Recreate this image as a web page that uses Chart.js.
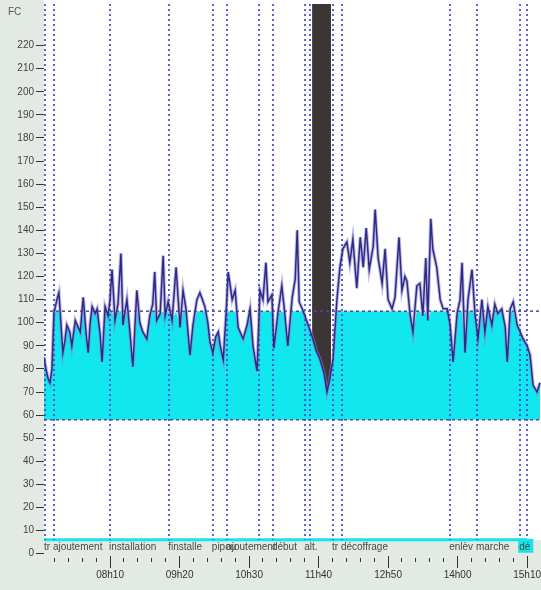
<!DOCTYPE html>
<html>
<head>
<meta charset="utf-8">
<script src="https://cdn.jsdelivr.net/npm/chart.js@4.4.1/dist/chart.umd.min.js"></script>
<style>
  html, body { margin: 0; padding: 0; background: #e3e9e3; }
  #wrap { width: 541px; height: 590px; }
</style>
</head>
<body>
<div id="wrap"><canvas id="fc-chart" width="541" height="590"></canvas></div>
<script>
// heart rate (FC) over the day, time in minutes since midnight
const times = [
  423.5, 425.5, 427.5, 429.5, 431.5, 433.5, 436.5, 438.5, 440.5, 442.5,
  444.5, 446.5, 449.5, 451.5, 455, 458, 460, 463, 466, 468,
  470, 472, 475, 477, 480, 482, 485, 488, 490, 492,
  495, 498, 501, 503, 507, 510, 513, 517, 520, 523,
  527, 530, 533, 535, 537, 540.5, 543.5, 545.5, 548.5, 552.5,
  556.5, 560.5, 563.5, 566.5, 570.5, 573.5, 577.5, 580.5, 585.5, 588.5,
  590.5, 593.5, 596.5, 599, 601, 604, 607, 609, 613, 616,
  619, 622, 624, 628, 631, 634, 638, 641, 644, 647,
  649, 653, 655, 659, 663, 666, 669, 673.5, 676.5, 678.5,
  680.5, 684.5, 689.5, 693.5, 697.5, 701.5, 705.5, 708.5, 711.5, 712.5,
  714.5, 718.5, 721.5, 724.5, 728.5, 731.5, 734.5, 738.5, 742, 745,
  748, 751, 755, 757, 760, 764, 767, 770, 774, 777,
  781, 784, 787, 789, 792, 795, 799, 802, 805, 808,
  810, 813, 815, 819, 822.5, 825.5, 829.5, 832.5, 835.5, 839.5,
  842.5, 844.5, 847.5, 850.5, 854.5, 857.5, 860.5, 864.5, 867.5, 870.5,
  874.5, 877.5, 880.5, 884.5, 888, 890, 893, 896, 900, 903,
  906, 910, 913, 916, 920, 923
];
const fc = [
  85, 80, 76, 74, 80, 104, 110, 113, 100, 87,
  92, 99, 96, 90, 101, 98, 96, 111, 95, 87,
  100, 107, 104, 106, 95, 83, 107, 103, 110, 123,
  101, 108, 130, 99, 110, 96, 81, 114, 100, 96,
  93, 103, 108, 122, 101, 104, 129, 103, 109, 101,
  124, 98, 114, 106, 86, 99, 110, 113, 107, 100,
  92, 87, 94, 96, 90, 84, 105, 122, 110, 114,
  98, 95, 93, 99, 106, 90, 79, 114, 110, 126,
  109, 112, 89, 104, 116, 104, 90, 111, 119, 140,
  109, 105, 99, 94, 88, 84, 78, 70, 76, 79,
  84, 110, 124, 132, 135, 126, 136, 115, 137, 124,
  141, 123, 133, 149, 128, 117, 132, 110, 106, 111,
  137, 114, 120, 118, 104, 96, 116, 117, 103, 128,
  101, 145, 132, 124, 110, 106, 106, 99, 83, 104,
  110, 126, 87, 110, 123, 104, 93, 110, 96, 107,
  99, 108, 104, 106, 98, 83, 106, 109, 99, 96,
  93, 90, 86, 73, 70, 74
];

// events (vertical dotted lines) and their labels
const eventTimes = [423.5, 432.5, 489, 548.5, 592.5, 607, 639, 653, 685.5, 690.5,
                    713.5, 722.5, 831.5, 858.5, 902, 909];
const eventLabels = ['tr', 'ajoutement', 'installation', 'finstalle', 'pipou', 'ajoutement', '', 'début', 'alt.', '',
                     'tr', 'décoffrage', 'enlèv', 'marche', 'dé', ''];

const zoneLow = 58;
const zoneHigh = 105;
const gapStart = 693.5;
const gapEnd = 712.5;
const baseline = 6;

const majorTicks = [490, 560, 630, 700, 770, 840, 910];
const xTickLabels = ['08h10', '09h20', '10h30', '11h40', '12h50', '14h00', '15h10'];
const yTicks = [0, 10, 20, 30, 40, 50, 60, 70, 80, 90, 100, 110, 120, 130, 140, 150, 160, 170, 180, 190, 200, 210, 220];

const xMin = 423.5, xMax = 924, yMin = -1, yMax = 238;
const fontFamily = '"Liberation Sans", Arial, sans-serif';

const hrPoints = times.map((t, i) => ({ x: t, y: fc[i] }));

const backdrop = {
  id: 'backdrop',
  beforeDraw(chart) {
    const { ctx, chartArea, scales } = chart;
    ctx.save();
    ctx.fillStyle = '#e3e9e3';
    ctx.fillRect(0, 0, chart.width, chart.height);
    ctx.fillStyle = '#ffffff';
    const yb = scales.y.getPixelForValue(baseline);
    ctx.fillRect(chartArea.left, 0, chartArea.right - chartArea.left, yb);
    ctx.fillStyle = '#555';
    ctx.font = '10px ' + fontFamily;
    ctx.textBaseline = 'middle';
    ctx.fillText('FC', 8, 12);
    ctx.restore();
  }
};

const eventMarkers = {
  id: 'eventMarkers',
  beforeDatasetDraw(chart, args) {
    if (args.index !== 0) return;
    const { ctx, chartArea, scales: { x, y } } = chart;
    const yb = y.getPixelForValue(baseline);
    ctx.save();
    ctx.strokeStyle = 'rgba(70, 70, 200, 0.85)';
    ctx.lineWidth = 2;
    ctx.setLineDash([2, 3]);
    eventTimes.forEach(t => {
      const px = Math.round(x.getPixelForValue(t)) + 1;
      ctx.beginPath();
      ctx.moveTo(px, chartArea.top);
      ctx.lineTo(px, yb);
      ctx.stroke();
    });
    ctx.restore();
  },
  afterDraw(chart) {
    const { ctx, scales: { x, y } } = chart;
    const ty = y.getPixelForValue(3);
    ctx.save();
    ctx.font = '10px ' + fontFamily;
    ctx.textBaseline = 'middle';
    ctx.textAlign = 'left';
    eventTimes.forEach((t, i) => {
      const label = eventLabels[i];
      if (!label) return;
      const px = x.getPixelForValue(t);
      if (label === 'dé') {
        ctx.fillStyle = '#14e4ec';
        ctx.fillRect(px - 1, ty - 8, ctx.measureText(label).width + 4, 14);
      }
      ctx.fillStyle = '#4a4a42';
      ctx.fillText(label, px, ty);
    });
    ctx.restore();
  }
};

new Chart(document.getElementById('fc-chart'), {
  type: 'line',
  data: {
    datasets: [
      {
        label: 'FC',
        data: hrPoints,
        borderColor: '#2c2c82',
        borderWidth: 1.5,
        pointRadius: 0,
        fill: false,
        order: 1
      },
      {
        label: 'halo',
        data: hrPoints,
        borderColor: 'rgba(140, 125, 210, 0.55)',
        borderWidth: 3.5,
        pointRadius: 0,
        fill: false,
        order: 2
      },
      {
        label: 'zone',
        data: times.map((t, i) => ({ x: t, y: Math.min(fc[i], zoneHigh) })),
        borderColor: 'transparent',
        borderWidth: 0,
        pointRadius: 0,
        backgroundColor: '#12e6ee',
        fill: { value: zoneLow },
        order: 6
      },
      {
        label: 'coupure',
        data: hrPoints.filter(p => p.x >= gapStart && p.x <= gapEnd),
        borderColor: 'transparent',
        borderWidth: 0,
        pointRadius: 0,
        backgroundColor: '#3c3535',
        fill: 'end',
        order: 5
      },
      {
        label: 'seuil haut',
        data: [{ x: xMin, y: zoneHigh }, { x: xMax, y: zoneHigh }],
        borderColor: '#4e4e8a',
        borderWidth: 1.5,
        borderDash: [3, 3],
        pointRadius: 0,
        fill: false,
        order: 3
      },
      {
        label: 'seuil bas',
        data: [{ x: xMin, y: zoneLow }, { x: xMax, y: zoneLow }],
        borderColor: '#4e4e9a',
        borderWidth: 1.5,
        borderDash: [3, 3],
        pointRadius: 0,
        fill: false,
        order: 3
      },
      {
        label: 'base',
        data: [{ x: xMin, y: baseline }, { x: 910, y: baseline }],
        borderColor: '#14e4ec',
        borderWidth: 3,
        pointRadius: 0,
        fill: false,
        order: 3
      }
    ]
  },
  options: {
    responsive: false,
    animation: false,
    devicePixelRatio: 1,
    layout: { padding: { top: 4, left: 0, right: 0, bottom: 0 } },
    plugins: {
      legend: { display: false },
      tooltip: { enabled: false }
    },
    scales: {
      x: {
        type: 'linear',
        min: xMin,
        max: xMax,
        border: { display: false },
        grid: {
          drawOnChartArea: false,
          tickLength: 12,
          tickColor: '#333',
          tickWidth: 1,
          tickBorderDash: ctx => majorTicks.includes(ctx.tick.value) ? [] : [0, 2, 4, 40]
        },
        ticks: {
          autoSkip: false,
          maxRotation: 0,
          padding: 1,
          color: '#333',
          font: { size: 10, family: fontFamily },
          callback: v => {
            const i = majorTicks.indexOf(v);
            return i >= 0 ? xTickLabels[i] : '';
          }
        },
        afterBuildTicks: s => {
          const ticks = [];
          for (let v = 434; v <= 910; v += 14) ticks.push({ value: v });
          s.ticks = ticks;
        },
        afterFit: s => { s.height = 34; s.paddingLeft = 0; s.paddingRight = 0; }
      },
      y: {
        min: yMin,
        max: yMax,
        border: { display: false },
        grid: { drawOnChartArea: false, tickLength: 8, tickColor: '#333' },
        ticks: {
          padding: 2,
          color: '#444',
          font: { size: 10, family: fontFamily }
        },
        afterBuildTicks: s => { s.ticks = yTicks.map(v => ({ value: v })); },
        afterFit: s => { s.width = 44; s.paddingTop = 0; s.paddingBottom = 0; }
      }
    }
  },
  plugins: [backdrop, eventMarkers]
});
</script>
</body>
</html>
